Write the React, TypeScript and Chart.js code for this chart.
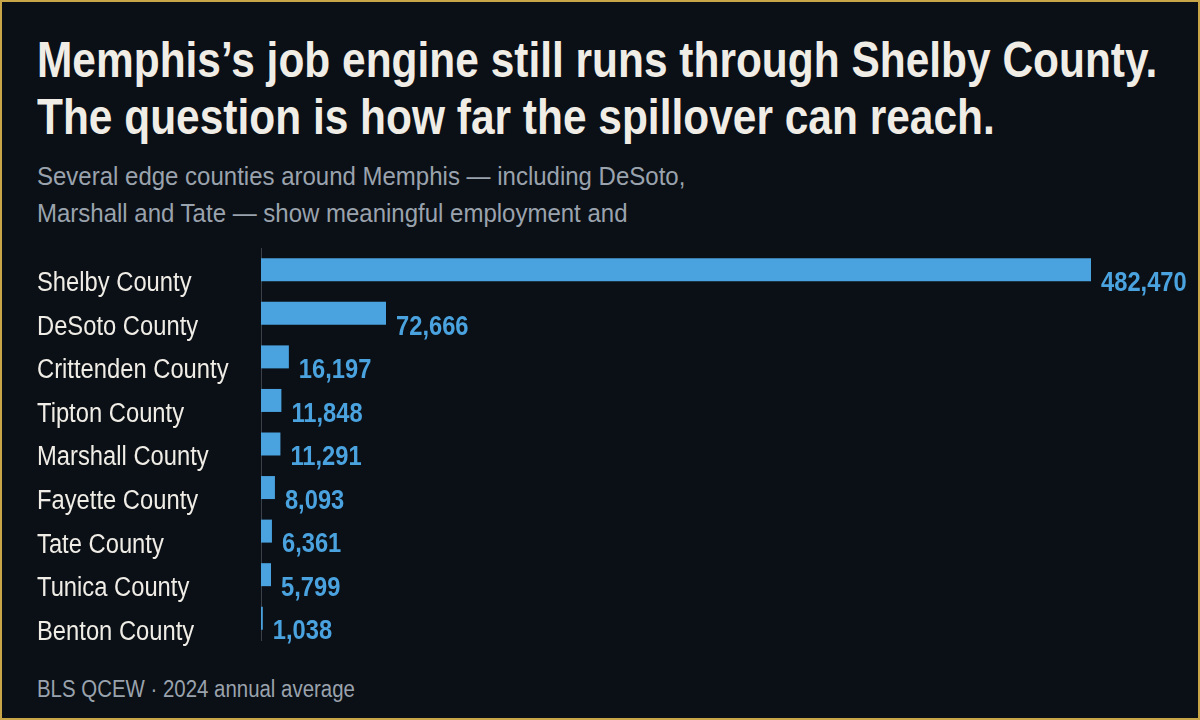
import React, { useEffect, useRef } from "react";
import { Chart, registerables } from "chart.js";

Chart.register(...registerables);

const categories = [
  "Shelby County",
  "DeSoto County",
  "Crittenden County",
  "Tipton County",
  "Marshall County",
  "Fayette County",
  "Tate County",
  "Tunica County",
  "Benton County",
];
const employment = [482470, 72666, 16197, 11848, 11291, 8093, 6361, 5799, 1038];

const titleLines = [
  "Memphis\u2019s job engine still runs through Shelby County.",
  "The question is how far the spillover can reach.",
];
const subtitleLines = [
  "Several edge counties around Memphis \u2014 including DeSoto,",
  "Marshall and Tate \u2014 show meaningful employment and",
];
const footerText = "BLS QCEW \u00b7 2024 annual average";

const FONT = '"Liberation Sans", Arial, sans-serif';
const BAR = "#4aa3df";
const BG = "#0b0f16";
const TEXT = "#f0ede6";
const MUTED = "#9aa3ad";

const narrowLabels = {
  id: "narrowLabels",
  afterDatasetsDraw(chart: any) {
    const ctx = chart.ctx;
    const yScale = chart.scales.y;
    const meta = chart.getDatasetMeta(0);
    ctx.save();
    ctx.textAlign = "left";
    ctx.textBaseline = "middle";
    // category labels
    ctx.font = `27px ${FONT}`;
    ctx.fillStyle = TEXT;
    (chart.data.labels as string[]).forEach((lab, i) => {
      const y = yScale.getPixelForTick(i);
      ctx.save();
      ctx.translate(37, y + 14);
      ctx.scale(0.88, 1);
      ctx.fillText(lab, 0, 0);
      ctx.restore();
    });
    // value labels
    ctx.font = `bold 28px ${FONT}`;
    ctx.fillStyle = BAR;
    meta.data.forEach((el: any, i: number) => {
      const v = chart.data.datasets[0].data[i] as number;
      ctx.save();
      ctx.translate(el.x + 10, el.y + 13.5);
      ctx.scale(0.847, 1);
      ctx.fillText(v.toLocaleString("en-US"), 0, 0);
      ctx.restore();
    });
    ctx.restore();
  },
};

export default function App() {
  const ref = useRef<HTMLCanvasElement>(null);
  useEffect(() => {
    if (!ref.current) return;
    const chart = new Chart(ref.current, {
      type: "bar",
      data: {
        labels: categories,
        datasets: [
          {
            data: employment,
            backgroundColor: BAR,
            borderWidth: 0,
            categoryPercentage: 0.8,
            barPercentage: 0.66,
          },
        ],
      },
      options: {
        indexAxis: "y",
        responsive: false,
        animation: false,
        layout: { padding: { left: 37, right: 109, top: 8, bottom: 20 } },
        plugins: {
          legend: { display: false },
          tooltip: { enabled: false },
          title: { display: false },
        },
        scales: {
          x: { display: false, min: 0, max: 482470 },
          y: {
            type: "category",
            grid: { display: false, drawTicks: false },
            border: { display: true, color: "#3a414a", width: 1 },
            ticks: { display: false },
            afterFit(scale: any) {
              scale.width = 224;
            },
          },
        },
      },
      plugins: [narrowLabels],
    });
    return () => chart.destroy();
  }, []);

  const textBlock = (extra: React.CSSProperties, sx: number): React.CSSProperties => ({
    position: "absolute",
    fontFamily: FONT,
    whiteSpace: "nowrap",
    transform: `scaleX(${sx})`,
    transformOrigin: "left top",
    ...extra,
  });

  return (
    <div
      style={{
        position: "absolute",
        left: 0,
        top: 0,
        width: 1200,
        height: 720,
        boxSizing: "border-box",
        border: "2px solid #c9a648",
        background: BG,
        overflow: "hidden",
      }}
    >
      <div
        style={textBlock(
          {
            left: 35,
            top: 30,
            fontWeight: "bold",
            fontSize: 50,
            lineHeight: "57px",
            color: TEXT,
          },
          0.849
        )}
      >
        {titleLines.map((t, i) => (
          <div key={i}>{t}</div>
        ))}
      </div>
      <div
        style={textBlock(
          {
            left: 35,
            top: 156,
            fontSize: 26,
            lineHeight: "36.5px",
            color: MUTED,
          },
          0.923
        )}
      >
        {subtitleLines.map((t, i) => (
          <div key={i}>{t}</div>
        ))}
      </div>
      <canvas
        ref={ref}
        width={1200}
        height={420}
        style={{ position: "absolute", left: -2, top: 238, width: 1200, height: 420 }}
      />
      <div
        style={textBlock(
          {
            left: 35,
            top: 674,
            fontSize: 23,
            lineHeight: "26px",
            color: MUTED,
          },
          0.888
        )}
      >
        {footerText}
      </div>
    </div>
  );
}
